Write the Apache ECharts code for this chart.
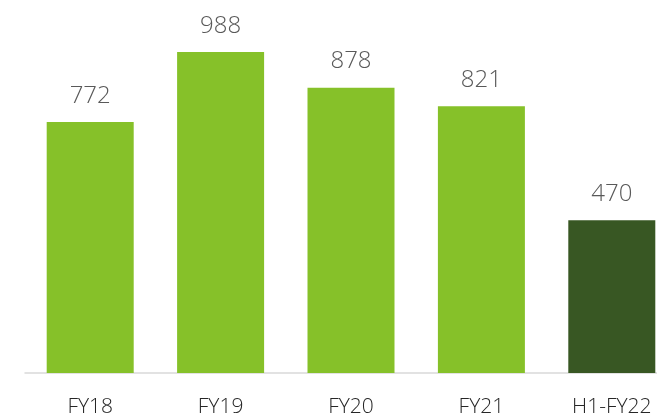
<!DOCTYPE html>
<html>
<head>
<meta charset="utf-8">
<script src="https://cdn.jsdelivr.net/npm/echarts@6/dist/echarts.min.js"></script>
<style>html,body{margin:0;padding:0;background:#fff;overflow:hidden;width:657px;height:418px}#c{width:680px;height:418px}</style>
</head>
<body>
<div id="c"></div>
<script>
var categories = ['FY18', 'FY19', 'FY20', 'FY21', 'H1-FY22'];
var values = [772, 988, 878, 821, 470];
var barColors = ['#86c129', '#86c129', '#86c129', '#86c129', '#385723'];

var chart = echarts.init(document.getElementById('c'));
chart.setOption({
  animation: false,
  grid: { left: 25, width: 652, top: 48, bottom: 42.5 },
  xAxis: {
    type: 'category',
    data: categories,
    axisLine: { lineStyle: { color: '#d9d9d9', width: 1.5 } },
    axisTick: { show: false },
    axisLabel: { color: '#262626', fontSize: 21, fontWeight: 300, fontFamily: 'Open Sans', margin: 24 }
  },
  yAxis: {
    type: 'value', min: 0, max: 1000,
    show: false
  },
  series: [{
    type: 'bar',
    barWidth: 87,
    data: values.map(function (v, i) { return { value: v, itemStyle: { color: barColors[i] } }; }),
    label: {
      show: true, position: 'top', distance: 14,
      color: '#595959', fontSize: 24, fontWeight: 300, fontFamily: 'Open Sans'
    }
  }]
});
</script>
</body>
</html>
